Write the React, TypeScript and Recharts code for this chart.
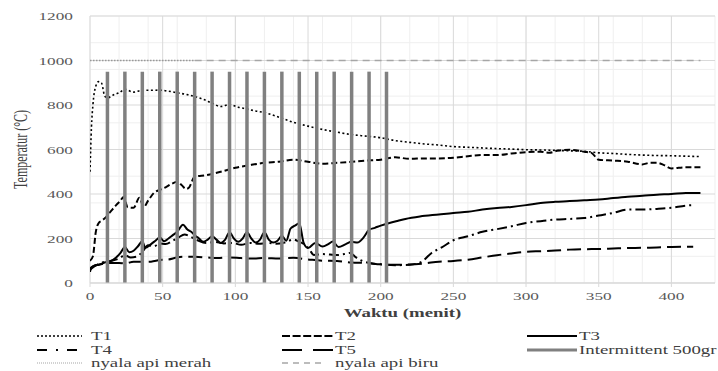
import { ComposedChart, Line, XAxis, YAxis, CartesianGrid, ReferenceLine } from 'recharts'

// time (menit) and temperature (°C)
const t1Time = [0, 1, 2, 4, 6, 8, 10, 12, 16, 20, 24, 30, 36, 42, 48, 54, 60, 66, 72, 78, 84, 90, 96, 102, 108, 114, 120, 130, 140, 150, 160, 170, 180, 190, 200, 210, 220, 230, 240, 250, 260, 270, 280, 290, 300, 310, 320, 330, 340, 350, 360, 370, 380, 390, 400, 410, 420]
const t1Temp = [500, 700, 800, 885, 905, 898, 842, 832, 845, 855, 870, 858, 866, 866, 867, 862, 855, 848, 838, 825, 808, 793, 802, 790, 782, 773, 766, 745, 722, 705, 690, 678, 667, 660, 653, 640, 632, 625, 620, 613, 610, 607, 604, 602, 599, 598, 596, 594, 592, 585, 582, 578, 575, 573, 572, 570, 568]

const t2Time = [0, 2, 4, 6, 8, 10, 14, 18, 21, 23, 26, 30, 34, 37, 40, 44, 48, 52, 56, 60, 63, 66, 68, 72, 80, 90, 100, 110, 120, 130, 140, 150, 160, 170, 180, 190, 200, 210, 220, 230, 240, 250, 260, 270, 280, 290, 300, 310, 316, 322, 330, 340, 345, 350, 360, 370, 380, 385, 390, 395, 400, 410, 420]
const t2Temp = [100, 120, 230, 270, 280, 290, 320, 350, 370, 387, 340, 338, 383, 342, 370, 405, 419, 430, 445, 455, 440, 423, 428, 478, 485, 500, 518, 530, 540, 545, 554, 545, 536, 540, 545, 550, 554, 565, 558, 560, 560, 563, 570, 575, 575, 582, 588, 590, 585, 595, 599, 590, 585, 554, 550, 545, 533, 540, 540, 530, 515, 520, 520]

const t3Time = [0, 1, 3, 6, 10, 14, 18, 21, 24, 27, 30, 33, 36, 38, 42, 45, 48, 51, 54, 57, 60, 64, 67, 70, 72, 75, 78, 81, 84, 87, 90, 93, 96, 99, 102, 105, 108, 111, 114, 117, 120, 123, 126, 129, 132, 135, 138, 141, 144, 147, 150, 155, 160, 164, 167, 171, 176, 180, 184, 188, 192, 196, 200, 206, 212, 217, 227, 240, 250, 260, 270, 280, 290, 300, 310, 320, 330, 340, 350, 360, 370, 380, 390, 400, 410, 420]
const t3Temp = [50, 70, 78, 82, 92, 98, 115, 135, 162, 138, 145, 165, 188, 158, 175, 190, 205, 188, 200, 215, 230, 262, 240, 228, 215, 200, 185, 195, 210, 195, 180, 195, 228, 200, 185, 200, 228, 200, 182, 195, 228, 195, 182, 190, 212, 190, 245, 258, 268, 180, 157, 180, 164, 175, 186, 162, 175, 185, 182, 203, 239, 248, 258, 270, 280, 288, 299, 308, 315, 320, 330, 337, 342, 350, 360, 365, 368, 372, 375, 382, 388, 392, 397, 400, 405, 405]

const t4Time = [0, 3, 6, 10, 15, 20, 24, 28, 32, 36, 40, 44, 48, 52, 57, 61, 65, 70, 74, 80, 86, 92, 98, 104, 110, 116, 122, 128, 134, 140, 144, 148, 151, 154, 160, 165, 170, 175, 179, 183, 187, 192, 200, 210, 220, 228, 235, 242, 250, 260, 270, 280, 290, 300, 310, 320, 330, 340, 350, 360, 370, 380, 390, 400, 410, 415]
const t4Temp = [60, 75, 85, 95, 100, 110, 125, 115, 118, 140, 170, 165, 178, 175, 190, 205, 218, 205, 192, 180, 185, 178, 180, 172, 180, 176, 180, 176, 182, 195, 185, 171, 150, 126, 130, 128, 126, 130, 135, 115, 100, 90, 84, 80, 82, 95, 135, 160, 192, 210, 230, 242, 255, 270, 278, 285, 288, 292, 303, 315, 330, 330, 333, 338, 348, 350]

const t5Time = [0, 3, 6, 10, 15, 20, 24, 30, 36, 42, 48, 54, 60, 66, 72, 80, 88, 96, 104, 112, 120, 130, 140, 150, 160, 170, 180, 190, 200, 210, 220, 230, 240, 250, 260, 270, 280, 290, 300, 310, 320, 330, 340, 350, 360, 370, 380, 390, 400, 410, 415]
const t5Temp = [65, 78, 82, 88, 90, 90, 88, 95, 95, 96, 103, 106, 115, 118, 118, 115, 112, 115, 112, 110, 112, 110, 113, 106, 100, 99, 92, 90, 84, 82, 83, 88, 96, 99, 105, 115, 125, 133, 140, 143, 146, 150, 152, 153, 155, 157, 158, 160, 162, 163, 163]

const intermittentTimes = [12, 24, 36, 48, 60, 72, 84, 96, 108, 120, 132, 144, 156, 168, 180, 192, 204]
const intermittentTop = 950

const flameLevel = 1000
const merahSpan = [0, 72]
const biruSpan = [72, 420]

const xTicks = [0, 50, 100, 150, 200, 250, 300, 350, 400]
const yTicks = [0, 200, 400, 600, 800, 1000, 1200]
const xMinor = Array.from({ length: 44 }, (_, i) => i * 10)
const yMinor = Array.from({ length: 31 }, (_, i) => i * 40)

const toPoints = (xs: number[], ys: number[]) => xs.map((x, i) => ({ x, y: ys[i] }))

const S = 1.57
const serif = '"Liberation Serif", Tinos, "Times New Roman", "DejaVu Serif", serif'
const tickColor = '#595959'

const XTick = ({ x, y, payload }: any) => (
    <g transform={`translate(${x},${y + 13})`}>
        <text transform={`scale(${S},1)`} textAnchor="middle" style={{ fontFamily: serif, fontSize: 11 }} fill={tickColor}>
            {payload.value}
        </text>
    </g>
)

const YTick = ({ x, y, payload }: any) => (
    <g transform={`translate(${x - 17},${y + 4})`}>
        <text transform={`scale(${S},1)`} textAnchor="end" style={{ fontFamily: serif, fontSize: 11 }} fill={tickColor}>
            {payload.value}
        </text>
    </g>
)

const series = [
    { name: 'T1', time: t1Time, temp: t1Temp, dash: '2 2.5', width: 1.6 },
    { name: 'T2', time: t2Time, temp: t2Temp, dash: '6 3', width: 2 },
    { name: 'T3', time: t3Time, temp: t3Temp, dash: undefined, width: 2 },
    { name: 'T4', time: t4Time, temp: t4Temp, dash: '10 4 2 4', width: 2 },
    { name: 'T5', time: t5Time, temp: t5Temp, dash: '14 6', width: 2 },
]

const LegendText = ({ x, y, children }: any) => (
    <g transform={`translate(${x},${y + 4})`}>
        <text transform={`scale(${S},1)`} style={{ fontFamily: serif, fontSize: 12 }} fill="#404040">{children}</text>
    </g>
)

const ChartLegend = () => (
    <svg width={718} height={371} style={{ position: 'absolute', left: 0, top: 0, pointerEvents: 'none' }}>
        <line x1={37} x2={82} y1={336} y2={336} stroke="#000" strokeWidth={1.6} strokeDasharray="2 2" />
        <LegendText x={91} y={336}>T1</LegendText>
        <line x1={282} x2={333} y1={336} y2={336} stroke="#000" strokeWidth={2} strokeDasharray="8 2.6" />
        <LegendText x={335} y={336}>T2</LegendText>
        <line x1={527} x2={577} y1={336} y2={336} stroke="#000" strokeWidth={2} />
        <LegendText x={579} y={336}>T3</LegendText>

        <line x1={37} x2={78} y1={350} y2={350} stroke="#000" strokeWidth={2} strokeDasharray="10 9 2 9" />
        <LegendText x={91} y={350}>T4</LegendText>
        <line x1={282} x2={333} y1={350} y2={350} stroke="#000" strokeWidth={2} strokeDasharray="20 11" />
        <LegendText x={335} y={350}>T5</LegendText>
        <line x1={527} x2={577} y1={350} y2={350} stroke="#808080" strokeWidth={3} />
        <LegendText x={579} y={350}>Intermittent 500gr</LegendText>

        <line x1={37} x2={82} y1={363} y2={363} stroke="#a6a6a6" strokeWidth={1.2} strokeDasharray="1 1" />
        <LegendText x={91} y={363}>nyala api merah</LegendText>
        <line x1={282} x2={322} y1={363} y2={363} stroke="#a6a6a6" strokeWidth={1.5} strokeDasharray="6 5" />
        <LegendText x={335} y={363}>nyala api biru</LegendText>
    </svg>
)

const App = () => {
    return (
        <div style={{ position: 'absolute', left: 0, top: 0, width: 718, height: 371, background: '#fff' }}>
            <ComposedChart width={718} height={371} margin={{ top: 16, right: 3, left: 0, bottom: 0 }}>
                <CartesianGrid stroke="#efefef" verticalValues={xMinor} horizontalValues={yMinor} />
                <CartesianGrid stroke="#d9d9d9" verticalValues={xTicks} horizontalValues={yTicks} />
                <XAxis
                    type="number"
                    dataKey="x"
                    domain={[0, 430]}
                    ticks={xTicks}
                    allowDataOverflow
                    height={88}
                    tickSize={4}
                    tickMargin={0}
                    tickLine={{ stroke: '#d9d9d9' }}
                    axisLine={{ stroke: '#d9d9d9' }}
                    tick={<XTick />}
                    label={{
                        content: ({ viewBox }: any) => (
                            <g transform={`translate(${viewBox.x + viewBox.width / 2},${viewBox.y + 34})`}>
                                <text transform={`scale(${S},1)`} textAnchor="middle" style={{ fontFamily: serif, fontSize: 12, fontWeight: 'bold' }} fill="#404040">
                                    Waktu (menit)
                                </text>
                            </g>
                        ),
                    }}
                />
                <YAxis
                    type="number"
                    domain={[0, 1200]}
                    ticks={yTicks}
                    width={90}
                    tickSize={0}
                    tickMargin={0}
                    tickLine={false}
                    axisLine={false}
                    tick={<YTick />}
                    label={{
                        content: ({ viewBox }: any) => (
                            <g transform={`translate(27,${viewBox.y + viewBox.height / 2}) scale(${S},1) rotate(-90)`}>
                                <text textAnchor="middle" style={{ fontFamily: serif, fontSize: 12 }} fill="#404040">
                                    Temperatur (°C)
                                </text>
                            </g>
                        ),
                    }}
                />
                <Line
                    data={merahSpan.map((x) => ({ x, y: flameLevel }))}
                    dataKey="y"
                    stroke="#999999"
                    strokeWidth={1.5}
                    strokeDasharray="1.5 1.5"
                    dot={false}
                    isAnimationActive={false}
                />
                <Line
                    data={biruSpan.map((x) => ({ x, y: flameLevel }))}
                    dataKey="y"
                    stroke="#a6a6a6"
                    strokeWidth={1.5}
                    strokeDasharray="7 5"
                    dot={false}
                    isAnimationActive={false}
                />
                {series.map((s) => (
                    <Line
                        key={s.name}
                        name={s.name}
                        data={toPoints(s.time, s.temp)}
                        dataKey="y"
                        type="monotone"
                        stroke="#000"
                        strokeWidth={s.width}
                        strokeDasharray={s.dash}
                        dot={false}
                        isAnimationActive={false}
                    />
                ))}
                {intermittentTimes.map((t) => (
                    <ReferenceLine
                        key={t}
                        segment={[{ x: t, y: 0 }, { x: t, y: intermittentTop }]}
                        stroke="#808080"
                        strokeWidth={3.5}
                    />
                ))}
            </ComposedChart>
            <ChartLegend />
        </div>
    )
}

export default App
